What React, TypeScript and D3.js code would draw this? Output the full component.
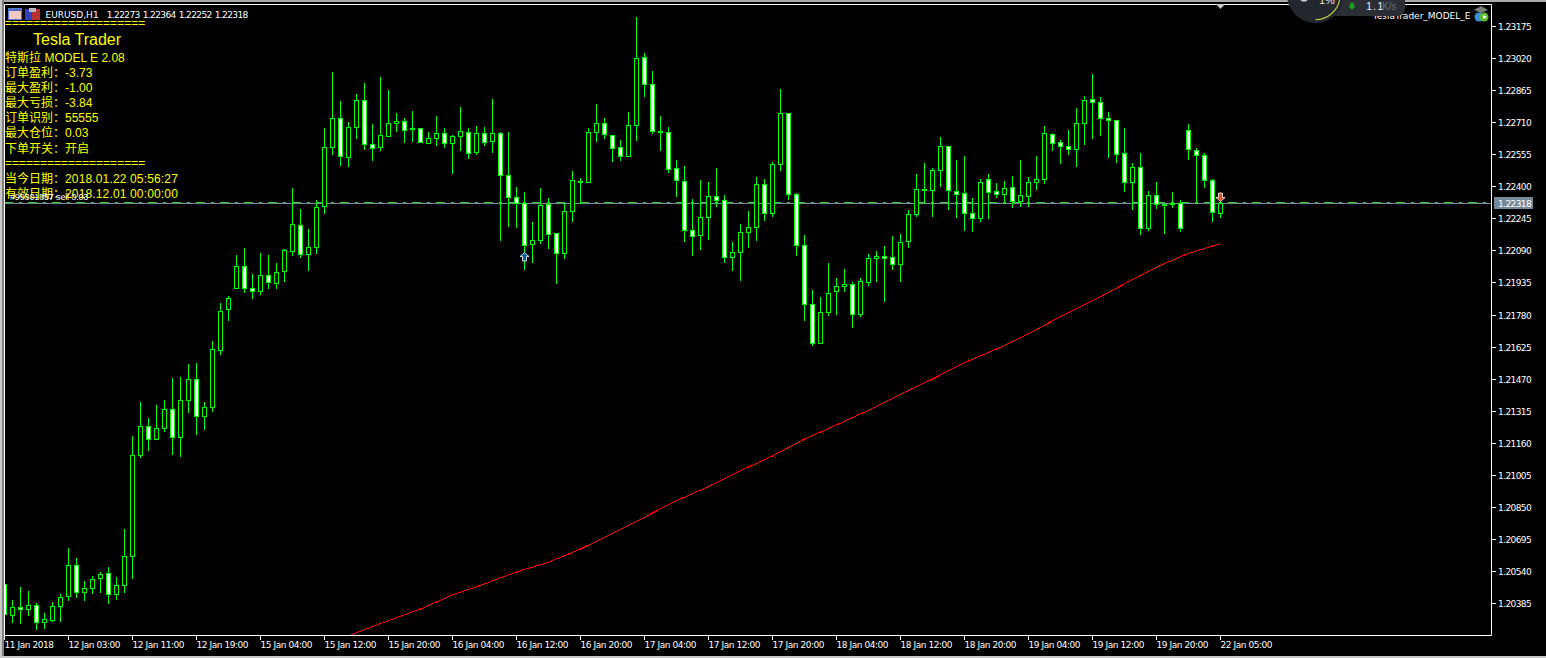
import { useEffect, useRef } from 'react';
import * as d3 from 'd3';

// all prices in points (1e-5)
const opens = [
  120477,120327,120366,120356,120376,120293,120303,120371,
  120419,120569,120438,120458,120506,120530,120429,120472,
  120613,121101,121241,121178,121231,121323,121188,121367,
  121468,121290,121333,121609,121807,121908,122015,121908,
  121894,121971,121933,121991,122087,122213,122073,122107,
  122305,122590,122730,122542,122687,122818,122605,122590,
  122643,122706,122716,122682,122682,122610,122634,122658,
  122610,122643,122663,122566,122658,122619,122658,122455,
  122348,122319,122121,122141,122315,122174,122078,122281,
  122426,122421,122663,122706,122648,122590,122547,122697,
  123025,122895,122668,122663,122489,122426,122189,122165,
  122252,122353,122334,122058,122082,122179,122203,122411,
  122271,122508,122755,122363,122116,121831,121642,121792,
  121894,121918,121928,121783,121937,122054,122063,122058,
  122024,122136,122266,122387,122382,122479,122595,122377,
  122368,122271,122247,122435,122377,122363,122397,122329,
  122353,122421,122435,122653,122614,122595,122580,122706,
  122822,122808,122730,122721,122561,122421,122494,122199,
  122358,122315,122319,122319,122672,122576,122551,122431,
  122273,
];
const highs = [
  120477,120400,120463,120443,120385,120337,120390,120429,
  120651,120603,120492,120516,120535,120559,120511,120743,
  121193,121357,121280,121343,121367,121473,121478,121541,
  121546,121357,121652,121836,121870,122068,122102,121976,
  122078,122068,122029,122097,122392,122290,122194,122334,
  122682,122953,122813,122711,122846,122900,122701,122929,
  122866,122755,122730,122764,122682,122663,122740,122682,
  122648,122784,122682,122692,122687,122822,122663,122663,
  122397,122373,122228,122392,122344,122174,122319,122474,
  122440,122682,122798,122730,122648,122624,122759,123219,
  123045,122958,122740,122687,122527,122498,122339,122431,
  122421,122489,122358,122131,122218,122281,122445,122435,
  122518,122871,122755,122368,122165,121899,121865,122029,
  121957,122000,121937,121957,122073,122087,122112,122160,
  122170,122286,122460,122513,122489,122639,122595,122527,
  122547,122344,122435,122460,122416,122426,122450,122527,
  122445,122547,122692,122658,122624,122672,122779,122837,
  122943,122832,122759,122721,122682,122513,122561,122377,
  122421,122315,122373,122334,122701,122585,122561,122435,
  122364,
];
const lows = [
  120332,120293,120288,120327,120260,120264,120298,120298,
  120400,120414,120400,120434,120438,120385,120405,120438,
  120506,121091,121125,121178,121217,121106,121096,121309,
  121202,121227,121314,121589,121754,121908,121889,121860,
  121879,121908,121908,121942,122068,122058,121995,122078,
  122271,122556,122503,122498,122634,122580,122527,122576,
  122643,122668,122614,122619,122614,122610,122600,122590,
  122464,122576,122537,122556,122600,122566,122141,122208,
  122203,122000,122034,122126,122102,121933,122054,122232,
  122319,122421,122619,122634,122522,122527,122547,122624,
  122837,122658,122576,122469,122353,122136,122068,122097,
  122145,122305,122034,121995,121947,122107,122141,122237,
  122257,122479,122339,122068,121754,121633,121642,121778,
  121783,121894,121720,121773,121923,121942,121846,122000,
  121942,122107,122257,122319,122257,122402,122290,122252,
  122189,122184,122232,122247,122348,122319,122300,122305,
  122305,122387,122416,122576,122513,122556,122498,122605,
  122634,122648,122542,122518,122377,122290,122170,122189,
  122295,122174,122300,122184,122532,122319,122397,122232,
  122252,
];
const closes = [
  120332,120366,120356,120376,120293,120308,120371,120414,
  120569,120438,120458,120501,120525,120429,120472,120613,
  121101,121241,121178,121231,121323,121188,121367,121468,
  121290,121333,121613,121797,121860,122015,121908,121894,
  121971,121937,121986,122092,122218,122073,122107,122300,
  122590,122730,122547,122687,122818,122605,122585,122648,
  122706,122716,122672,122677,122614,122634,122658,122610,
  122643,122668,122561,122658,122614,122658,122455,122348,
  122319,122116,122141,122310,122170,122078,122281,122431,
  122421,122663,122706,122653,122585,122547,122697,123020,
  122895,122668,122663,122484,122431,122189,122160,122252,
  122353,122334,122058,122082,122179,122203,122411,122271,
  122508,122755,122363,122116,121831,121642,121792,121884,
  121918,121928,121783,121942,122054,122063,122054,122024,
  122131,122266,122387,122382,122479,122595,122382,122363,
  122271,122247,122421,122373,122363,122392,122329,122358,
  122421,122435,122658,122610,122595,122580,122706,122818,
  122808,122730,122721,122556,122421,122494,122199,122358,
  122315,122310,122315,122199,122580,122551,122431,122276,
  122318,
];

// moving average, read every 4th bar
const maBars = [43,44,48,52,56,60,64,68,72,76,80,84,88,92,96,100,104,108,112,116,120,124,128,132,136,140,144,148,152];
const maValues = [
  120223,120242,120300,120356,120424,120477,120535,120582,120646,120722,
  120800,120880,120948,121025,121096,121178,121246,121317,121394,121468,
  121547,121613,121686,121770,121846,121928,122009,122076,122123,
];

const priceTicks = [
  '1.23175','1.23020','1.22865','1.22710','1.22555','1.22400','1.22245','1.22090','1.21935','1.21780',
  '1.21625','1.21470','1.21315','1.21160','1.21005','1.20850','1.20695','1.20540','1.20385',
];
const timeTicks = [
  '11 Jan 2018','12 Jan 03:00','12 Jan 11:00','12 Jan 19:00','15 Jan 04:00','15 Jan 12:00','15 Jan 20:00',
  '16 Jan 04:00','16 Jan 12:00','16 Jan 20:00','17 Jan 04:00','17 Jan 12:00','17 Jan 20:00','18 Jan 04:00',
  '18 Jan 12:00','18 Jan 20:00','19 Jan 04:00','19 Jan 12:00','19 Jan 20:00','22 Jan 05:00',
];

const bidPrice = 122318;
const orderPrice = 122322;
const buyArrow = { bar: 65, price: 122058 };
const sellArrow = { bar: 152, price: 122348 };

const panelRows = [
  ['订单盈利：', '-3.73'],
  ['最大盈利：', '-1.00'],
  ['最大亏损：', '-3.84'],
  ['订单识别：', '55555'],
  ['最大仓位：', '0.03'],
  ['下单开关：', '开启'],
];
const dateRows = [
  ['当今日期：', '2018.01.22 05:56:27'],
  ['有效日期：', '2018.12.01 00:00:00'],
];
const ruler = '====================';

const UI_FONT = '"Liberation Sans", Arial, sans-serif';
const AXIS_FONT = '"DejaVu Sans", sans-serif';
const CJK_FONT = '"Noto Sans CJK SC", sans-serif';
const LIME = '#00ff00';

export default function App() {
  const svgRef = useRef<SVGSVGElement>(null);

  useEffect(() => {
    if (!svgRef.current) return;
    const svg = d3.select(svgRef.current);
    svg.selectAll('*').remove();

    const width = 1546;
    const height = 658;
    const plotLeft = 4.5;
    const plotRight = 1491.5;
    const plotTop = 4.5;
    const plotBottom = 635.5;

    const x = d3.scaleLinear().domain([0, 152]).range([4.5, 1220.5]);
    const y = d3.scaleLinear().domain([120385, 123175]).range([603, 26]);
    const snap = (p: number) => Math.round(y(p)) + 0.5;

    svg.append('rect').attr('width', width).attr('height', height).attr('fill', '#000');

    // window chrome
    svg.append('rect').attr('width', width).attr('height', 2).attr('fill', '#a9a9a9');
    svg.append('rect').attr('width', 2).attr('height', height).attr('fill', '#c8c8c8');
    svg.append('rect').attr('x', 2).attr('width', 2).attr('height', height).attr('fill', '#808080');
    svg.append('rect').attr('y', 656).attr('width', width).attr('height', 2).attr('fill', '#c8c8c8');

    const defs = svg.append('defs');
    defs.append('clipPath').attr('id', 'plot')
      .append('rect')
      .attr('x', plotLeft + 0.5).attr('y', plotTop + 0.5)
      .attr('width', plotRight - plotLeft - 0.5).attr('height', plotBottom - plotTop - 0.5);

    const plot = svg.append('g').attr('clip-path', 'url(#plot)');

    // order line and bid line
    plot.append('line')
      .attr('x1', plotLeft - 0.5).attr('x2', plotRight)
      .attr('y1', snap(orderPrice)).attr('y2', snap(orderPrice))
      .attr('stroke', '#32cd32').attr('stroke-dasharray', '9 6 3 6');
    plot.append('line')
      .attr('x1', plotLeft).attr('x2', plotRight)
      .attr('y1', snap(bidPrice)).attr('y2', snap(bidPrice))
      .attr('stroke', '#778899');

    // moving average
    const maLine = d3.line<number>()
      .x((_, i) => x(maBars[i]))
      .y((d) => y(d));
    plot.append('path')
      .attr('d', maLine(maValues) as string)
      .attr('fill', 'none')
      .attr('stroke', '#ff0000')
      .attr('stroke-width', 1)
      .attr('shape-rendering', 'crispEdges');

    // candles
    const candles = plot.append('g').attr('shape-rendering', 'crispEdges');
    opens.forEach((open, i) => {
      const close = closes[i];
      const cx = x(i);
      const top = snap(Math.max(open, close));
      const bottom = snap(Math.min(open, close));
      candles.append('line')
        .attr('x1', cx).attr('x2', cx)
        .attr('y1', snap(highs[i]) - 0.5).attr('y2', snap(lows[i]) + 0.5)
        .attr('stroke', LIME);
      candles.append('rect')
        .attr('x', cx - 2).attr('y', top)
        .attr('width', 4).attr('height', Math.max(bottom - top, 1))
        .attr('fill', close > open ? '#000' : '#fff')
        .attr('stroke', LIME);
    });

    // trade arrows
    const arrow = (bar: number, price: number, dir: number, fill: string) => {
      const ax = x(bar);
      const ay = y(price);
      const shape = d3.path();
      shape.moveTo(ax, ay - 4.5 * dir);
      shape.lineTo(ax + 4.5, ay - 0.5 * dir);
      shape.lineTo(ax + 2, ay - 0.5 * dir);
      shape.lineTo(ax + 2, ay + 4 * dir);
      shape.lineTo(ax - 2, ay + 4 * dir);
      shape.lineTo(ax - 2, ay - 0.5 * dir);
      shape.lineTo(ax - 4.5, ay - 0.5 * dir);
      shape.closePath();
      svg.append('path').attr('d', shape.toString())
        .attr('fill', fill).attr('stroke', '#fff').attr('stroke-width', 0.8);
    };
    arrow(buyArrow.bar, buyArrow.price, 1, '#14609c');
    arrow(sellArrow.bar, sellArrow.price, -1, '#e0502a');

    // frame
    svg.append('path')
      .attr('d', `M${plotLeft},${plotBottom}V${plotTop}H${plotRight}V${plotBottom}H${plotLeft}`)
      .attr('fill', 'none').attr('stroke', '#fff');

    const label = (tx: number, ty: number, text: string, spacing = -0.6) =>
      svg.append('text')
        .attr('x', tx).attr('y', ty)
        .attr('fill', '#fff')
        .attr('font-family', AXIS_FONT)
        .attr('font-size', 9)
        .attr('letter-spacing', spacing)
        .text(text);

    // price axis
    priceTicks.forEach((t) => {
      const ty = Math.round(y(+t * 1e5)) + 0.5;
      svg.append('line')
        .attr('x1', plotRight).attr('x2', plotRight + 4.5)
        .attr('y1', ty).attr('y2', ty).attr('stroke', '#fff');
      label(1498, ty + 3.5, t);
    });

    // bid tag
    svg.append('rect')
      .attr('x', 1494).attr('y', 197)
      .attr('width', 39).attr('height', 12)
      .attr('fill', '#778899');
    label(1498, 206.5, (bidPrice / 1e5).toFixed(5));

    // time axis
    timeTicks.forEach((t, i) => {
      const tx = x(i * 8);
      svg.append('line')
        .attr('x1', tx).attr('x2', tx)
        .attr('y1', plotBottom).attr('y2', plotBottom + 4.5)
        .attr('stroke', '#fff');
      label(tx, 648, t, -0.45);
    });

    // chart header
    label(45.5, 18, 'EURUSD,H1', 0);
    [opens, highs, lows, closes].forEach((s, i) => {
      label(106.7 + i * 36, 18, (s[152] / 1e5).toFixed(5));
    });
    svg.append('rect').attr('x', 8.5).attr('y', 8.5).attr('width', 13).attr('height', 11)
      .attr('fill', '#f3c8c4').attr('stroke', '#5a78c8');
    svg.append('rect').attr('x', 9).attr('y', 9).attr('width', 12).attr('height', 2).attr('fill', '#4668c8');
    svg.append('rect').attr('x', 25).attr('y', 9).attr('width', 7).attr('height', 11).attr('fill', '#3040c0');
    svg.append('rect').attr('x', 32).attr('y', 9).attr('width', 8).attr('height', 11).attr('fill', '#b83030');
    svg.append('rect').attr('x', 29).attr('y', 8).attr('width', 7).attr('height', 4).attr('fill', '#b8b8b8');

    // info panel
    const yellow = (tx: number, ty: number, text: string, size = 12, font = UI_FONT) =>
      svg.append('text')
        .attr('x', tx).attr('y', ty)
        .attr('fill', '#ffff00')
        .attr('font-family', font)
        .attr('font-size', size)
        .text(text);

    yellow(5, 27, ruler, 12);
    yellow(33, 45, 'Tesla Trader', 16);
    yellow(5, 62, '特斯拉', 12, CJK_FONT);
    yellow(44.5, 62, 'MODEL E 2.08');
    panelRows.forEach(([name, value], i) => {
      const ry = 77 + i * 15.1;
      yellow(5, ry, name, 12, CJK_FONT);
      yellow(65, ry, value, 12, i === 5 ? CJK_FONT : UI_FONT);
    });
    yellow(5, 167, ruler, 12);
    dateRows.forEach(([name, value], i) => {
      const ry = 182.5 + i * 15;
      yellow(5, ry, name, 12, CJK_FONT);
      yellow(65, ry, value).attr('letter-spacing', 0.15);
    });
    label(10, 200, '#99301857 sell 0.03', -0.15)
      .attr('font-family', UI_FONT);

    // expert advisor name
    label(1470.5, 19, 'TeslaTrader_MODEL_E', 0).attr('text-anchor', 'end');
    svg.append('circle').attr('cx', 1479).attr('cy', 17).attr('r', 4.5).attr('fill', '#3a8fd8');
    svg.append('circle').attr('cx', 1484).attr('cy', 17).attr('r', 4.5).attr('fill', '#5cb82c');
    svg.append('path').attr('d', 'M1474,10L1481,6L1488,10L1481,13Z').attr('fill', '#7a8078');
    svg.append('path').attr('d', 'M1483,15L1487,17L1483,19Z').attr('fill', '#fff');

    // chart shift marker
    svg.append('path').attr('d', 'M1216,4H1225L1220.5,9Z').attr('fill', '#c8c8c8');

    // network widget sitting on top of the window
    const widget = svg.append('g');
    widget.append('rect')
      .attr('x', 1320).attr('y', -12)
      .attr('width', 85).attr('height', 28).attr('rx', 8)
      .attr('fill', '#2b2f35');
    widget.append('circle').attr('cx', 1315.5).attr('cy', -5.5).attr('r', 28.5).attr('fill', '#23272d');
    const dial = d3.arc()({
      innerRadius: 24,
      outerRadius: 25.2,
      startAngle: Math.PI * 0.55,
      endAngle: Math.PI,
    });
    widget.append('path')
      .attr('d', dial as string)
      .attr('transform', 'translate(1315.5,-5)')
      .attr('fill', '#b8c84a');
    widget.append('circle').attr('cx', 1304).attr('cy', -3).attr('r', 4)
      .attr('fill', 'none').attr('stroke', '#e8e8e8').attr('stroke-width', 1.5);
    widget.append('text').attr('x', 1319).attr('y', 4)
      .attr('fill', '#e8e8e8').attr('font-family', UI_FONT).attr('font-size', 11).text('1%');
    widget.append('path').attr('d', 'M1350,6H1354V3H1350ZM1348.5,6H1355.5L1352,10Z').attr('fill', '#1aa01a');
    widget.append('text').attr('x', 1366).attr('y', 10)
      .attr('fill', '#e8ecf4').attr('font-family', UI_FONT).attr('font-size', 11).attr('letter-spacing', 1).text('1.1');
    widget.append('text').attr('x', 1382).attr('y', 10)
      .attr('fill', '#6a7078').attr('font-family', UI_FONT).attr('font-size', 10).text('K/s');
  }, []);

  return (
    <div style={{ position: 'fixed', left: 0, top: 0 }}>
      <svg ref={svgRef} width={1546} height={658} style={{ display: 'block' }} />
    </div>
  );
}
